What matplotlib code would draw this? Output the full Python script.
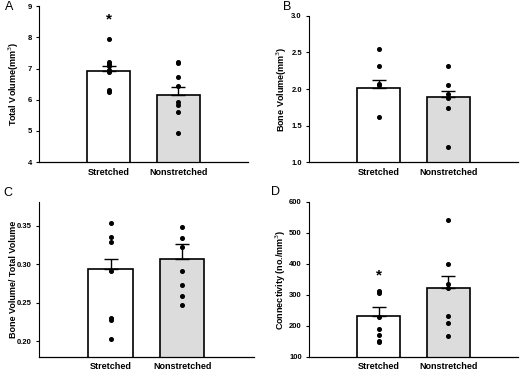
import matplotlib
matplotlib.use('Agg')
import matplotlib.pyplot as plt

plt.rcParams['font.family'] = ['Liberation Sans', 'DejaVu Sans']

groups = ['Stretched', 'Nonstretched']
bar_colors = ['white', '#dcdcdc']

# panel A: total volume
tv_means = [6.93, 6.17]
tv_se = [0.17, 0.25]
tv_pts = [[7.95, 7.22, 7.15, 7.1, 6.95, 6.9, 6.3, 6.25],
          [7.22, 7.18, 6.72, 6.45, 5.92, 5.82, 5.62, 4.92]]

# panel B: bone volume
bv_means = [2.02, 1.89]
bv_se = [0.11, 0.09]
bv_pts = [[2.55, 2.32, 2.07, 2.05, 1.62],
          [2.32, 2.06, 1.93, 1.88, 1.74, 1.21]]

# panel C: BV/TV
frac_means = [0.294, 0.307]
frac_se = [0.013, 0.019]
frac_pts = [[0.353, 0.336, 0.329, 0.291, 0.231, 0.228, 0.203],
            [0.348, 0.334, 0.322, 0.291, 0.273, 0.259, 0.247]]

# panel D: connectivity
conn_means = [232, 322]
conn_se = [28, 40]
conn_pts = [[312, 307, 228, 190, 170, 152, 148],
            [543, 401, 335, 322, 232, 208, 168]]

panels = [
    ('A', [0.075, 0.563, 0.402, 0.420], (0.010, 0.982), -0.085, tv_means, tv_se, tv_pts,
     'Total Volume(mm$^3$)', (4, 9), [4, 5, 6, 7, 8, 9], ['4', '5', '6', '7', '8', '9'], 8.57),
    ('B', [0.594, 0.563, 0.402, 0.394], (0.545, 0.982), -0.097, bv_means, bv_se, bv_pts,
     'Bone Volume(mm$^3$)', (1.0, 3.0), [1.0, 1.5, 2.0, 2.5, 3.0],
     ['1.0', '1.5', '2.0', '2.5', '3.0'], None),
    ('C', [0.075, 0.038, 0.413, 0.418], (0.006, 0.480), -0.098, frac_means, frac_se, frac_pts,
     'Bone Volume/ Total Volume', (0.18, 0.381), [0.20, 0.25, 0.30, 0.35],
     ['0.20', '0.25', '0.30', '0.35'], None),
    ('D', [0.594, 0.038, 0.402, 0.418], (0.522, 0.483), -0.102, conn_means, conn_se, conn_pts,
     'Connectivity (no./mm$^3$)', (100, 600), [100, 200, 300, 400, 500, 600],
     ['100', '200', '300', '400', '500', '600'], 364),
]

fig = plt.figure(figsize=(5.2, 3.71), dpi=100)
x = [1, 2]
for letter, rect, letter_xy, label_x, means, se, pts, ylabel, ylim, yticks, yticklabels, star in panels:
    ax = fig.add_axes(rect)
    ax.bar(x, means, width=0.62, color=bar_colors, edgecolor='black', linewidth=1.2, zorder=1)
    ax.errorbar(x, means, yerr=[[0, 0], se], fmt='none', ecolor='black',
                elinewidth=1.0, capsize=5, capthick=1.0, zorder=2)
    for xi, vals in zip(x, pts):
        ax.plot([xi] * len(vals), vals, 'o', color='black', markersize=2.6, zorder=3)
    if star is not None:
        ax.text(1, star, '*', ha='center', va='center', fontsize=11, fontweight='bold')
    ax.set_xlim(0, 3)
    ax.set_ylim(*ylim)
    ax.set_yticks(yticks)
    ax.set_yticklabels(yticklabels, fontsize=5.5, fontweight='bold')
    ax.set_xticks(x)
    ax.set_xticklabels(groups, fontsize=6.5, fontweight='bold')
    ax.tick_params(axis='x', length=0, pad=4)
    ax.tick_params(axis='y', length=2, width=0.8, direction='out', pad=3)
    ax.set_ylabel(ylabel, fontsize=6.5, fontweight='bold')
    ax.yaxis.set_label_coords(label_x, 0.5)
    for side in ['top', 'right']:
        ax.spines[side].set_visible(False)
    ax.spines['left'].set_linewidth(0.8)
    ax.spines['bottom'].set_linewidth(0.9)
    fig.text(letter_xy[0], letter_xy[1], letter, fontsize=9, ha='left', va='center')

fig.savefig('out.png', dpi=100)
